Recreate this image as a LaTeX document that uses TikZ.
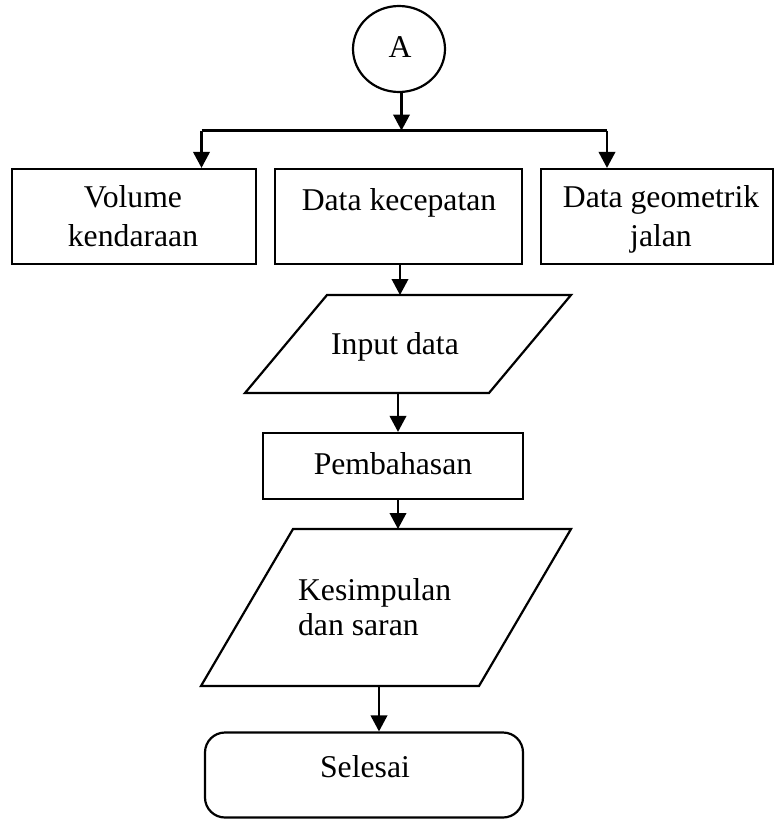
\documentclass[tikz,border=0pt]{standalone}
\usepackage{fontspec}
\setmainfont{Liberation Serif}
\usetikzlibrary{arrows.meta,shapes.geometric}
\begin{document}
\begin{tikzpicture}[x=1pt,y=-1pt,
  line width=2.2pt,
  box/.style={draw, rectangle, inner sep=0pt, line width=2.2pt},
  txt/.style={font=\fontsize{31.7}{38.5}\selectfont, inner sep=0pt},
  arr/.style={-{Triangle[length=16pt,width=16.5pt]}, line width=2.2pt}]
\useasboundingbox (0,0) rectangle (774,820);

% connector circle
\node[draw, ellipse, inner sep=0pt, minimum width=92pt, minimum height=86pt] (A) at (399,49) {};
\node[txt, anchor=base] (Atxt) at (400,57) {A};

% three data boxes
\node[box, minimum width=244pt, minimum height=95pt] (b1) at (134,216.5) {};
\node[box, minimum width=247pt, minimum height=95pt] (b2) at (398.5,216.5) {};
\node[box, minimum width=232pt, minimum height=95pt] (b3) at (657,216.5) {};
\node[txt, align=center] (t1) at (133,216) {Volume\\kendaraan};
\node[txt, anchor=base] (t2) at (399,210) {Data kecepatan};
\node[txt, align=center] (t3) at (661,219.4) {Data geometrik\\jalan};

% split line
\coordinate (j) at (401.5,130.5);
\coordinate (l) at (201.5,130.5);
\coordinate (r) at (607,130.5);
\draw[arr] (A.south -| j) -- (j);
\draw (l) -- (r);
\draw[arr] (l) -- (l |- b1.north);
\draw[arr] (r) -- (r |- b3.north);

% input data parallelogram
\coordinate (p1a) at (327,295);
\coordinate (p1b) at (571,295);
\coordinate (p1c) at (489,393);
\coordinate (p1d) at (245,393);
\draw (p1a) -- (p1b) -- (p1c) -- (p1d) -- cycle;
\node[txt, anchor=base] (inp) at (395,354) {Input data};
\coordinate (p1top) at (400,295);
\draw[arr] (b2.south -| p1top) -- (p1top);

% pembahasan
\node[box, minimum width=260pt, minimum height=66pt] (pb) at (393,466) {};
\node[txt, anchor=base] (pbt) at (393,474) {Pembahasan};
\coordinate (p1bot) at (398,393);
\draw[arr] (p1bot) -- (p1bot |- pb.north);

% kesimpulan parallelogram
\coordinate (p2a) at (293,529);
\coordinate (p2b) at (571,529);
\coordinate (p2c) at (479,686);
\coordinate (p2d) at (201,686);
\draw (p2a) -- (p2b) -- (p2c) -- (p2d) -- cycle;
\node[txt, align=left, anchor=west, font=\fontsize{31.7}{35.7}\selectfont] (ks) at (297,607) {Kesimpulan\\dan saran};
\coordinate (p2top) at (398,529);
\draw[arr] (pb.south -| p2top) -- (p2top);

% selesai
\node[draw, rectangle, rounded corners=20pt, inner sep=0pt, minimum width=318pt, minimum height=85pt] (sl) at (364,775) {};
\node[txt, anchor=base] (slt) at (365,777) {Selesai};
\coordinate (p2bot) at (379,686);
\draw[arr] (p2bot) -- (p2bot |- sl.north);
\end{tikzpicture}
\end{document}
